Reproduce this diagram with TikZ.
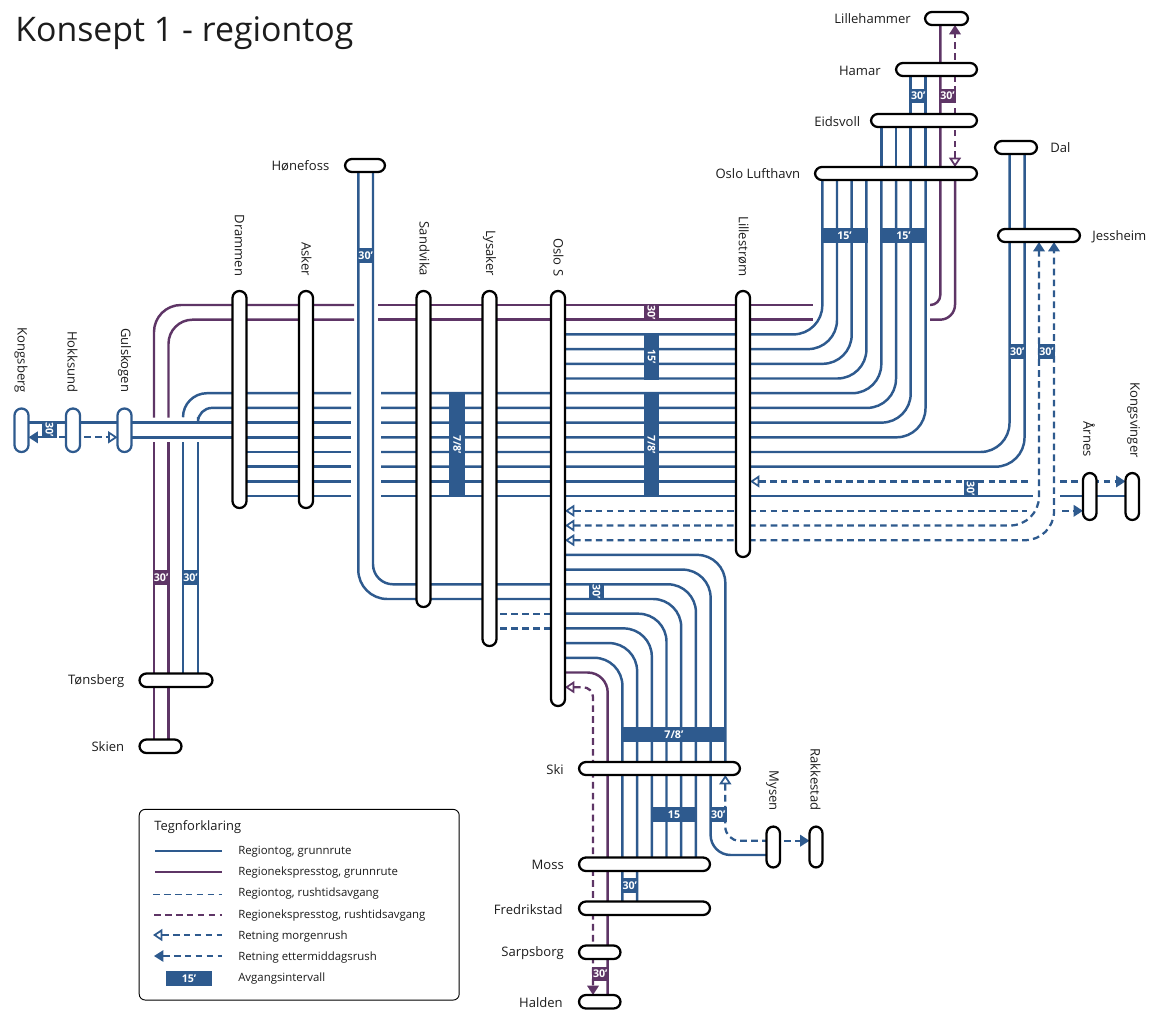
\documentclass[tikz,border=0pt]{standalone}
\usepackage{fontspec}
\setmainfont{Open Sans}
\usetikzlibrary{arrows.meta}
\definecolor{rblue}{HTML}{2E5A8E}
\definecolor{rpurp}{HTML}{5E3566}
\definecolor{ink}{HTML}{1C1C1C}
\pgfdeclarelayer{lines}
\pgfsetlayers{lines,main}
\tikzset{
  reg/.style={draw=rblue,line width=1.85pt},
  exp/.style={draw=rpurp,line width=1.85pt},
  regd/.style={draw=rblue,line width=1.7pt,dash pattern=on 5pt off 3.2pt},
  expd/.style={draw=rpurp,line width=1.7pt,dash pattern=on 5pt off 3.2pt},
  stnbox/.style={draw=black,fill=white,line width=1.7pt,rounded corners=5.2pt,inner sep=0pt,outer sep=0pt},
  lab/.style={text=ink,font=\fontsize{9.8}{11}\selectfont,inner sep=0pt},
  leg/.style={text=ink,font=\fontsize{8.55}{10}\selectfont,inner sep=0pt,anchor=west},
  boxtxt/.style={text=white,font=\bfseries\fontsize{8}{9}\selectfont,inner sep=0pt},
  R/.style={rounded corners=#1*0.75pt},
  opn/.tip={Triangle[open,fill=white,length=7pt,width=9pt,line width=1.3pt]},
  fil/.tip={Triangle[length=7pt,width=8.5pt]},
}
\newcommand\stn[6][black]{\node[stnbox,draw=#1,minimum width={(#5-#3-2)*0.75pt},minimum height={(#6-#4-2)*0.75pt}] (#2) at ({(#3+#5)/2},{(#4+#6)/2}) {};}
\newcommand\ibox[8]{\fill[#6] (#2,#3) rectangle (#4,#5); \node[boxtxt,rotate=#7] (#1) at ({(#2+#4)/2},{(#3+#5)/2}) {#8};}
\begin{document}
\begin{tikzpicture}[x=0.75pt,y=-0.75pt]
\useasboundingbox (0,0) rectangle (1151,1010);
% stations
\stn{lille}{924}{11}{969}{26}
\stn{hamar}{895}{62}{978}{77}
\stn{eids}{870}{113}{978}{128}
\stn{osl}{814}{166}{978}{181}
\stn{dal}{994}{140}{1038}{155}
\stn{jess}{997}{228}{1081}{243}
\stn{honef}{344}{158}{386}{173}
\stn{dram}{231.5}{290}{247.5}{509}
\stn{asker}{298}{290}{314}{509}
\stn{sand}{415.5}{290}{431.5}{608}
\stn{lys}{481.5}{290}{497.5}{647}
\stn{oslos}{550}{290}{566}{707}
\stn{lstrom}{735}{290}{751}{558}
\stn[rblue]{kongsb}{13.5}{407.5}{29.5}{453}
\stn[rblue]{hokk}{65}{407.5}{81}{453}
\stn[rblue]{guls}{116.5}{407.5}{132.5}{453}
\stn{aarnes}{1082}{472}{1097.5}{521}
\stn{kongsv}{1124.5}{472}{1140}{521}
\stn{tons}{138.5}{672.5}{213.5}{688}
\stn{skien}{138.5}{738.5}{182.5}{754}
\stn{ski}{578}{761}{741}{776}
\stn{moss}{578}{856.5}{711}{872}
\stn{fred}{578}{900.5}{711}{916}
\stn{sarp}{578}{944.5}{621.5}{960}
\stn{halden}{578}{994}{621.5}{1009.5}
\stn{mysen}{765.5}{825.5}{781}{868.5}
\stn{rakk}{808.5}{825.5}{823.5}{868.5}
% legend frame
\node[draw=black,line width=0.7pt,fill=white,rounded corners=4.5pt,minimum width=240pt,minimum height=143pt,inner sep=0pt] (legframe) at (299.2,904.7) {};
\begin{pgfonlayer}{lines}
% Purple left / top
\draw[exp,R=27] (154,417.7) -- (154,305) -- (354,305);
\draw[exp,R=24] (168.5,417.7) -- (168.5,319.7) -- (354,319.7);
\draw[exp] (154,442.3) -- (154,0 |- skien);
\draw[exp] (168.5,442.3) -- (168.5,0 |- skien);
\draw[exp] (378,305) -- (813,305);
\draw[exp] (378,319.7) -- (813,319.7);
\draw[exp,R=10] (930,305) -- (940.3,305) -- (940.3,0 |- lille);
\draw[exp,R=15] (930,319.7) -- (955,319.7) -- (955,0 |- osl);
\draw[expd,opn-fil] (955,0 |- osl.north) -- (955,0 |- lille.south);
% blue lines left
\draw[reg,R=24] (183,417) -- (183,393.2) -- (351,393.2);
\draw[reg,R=14] (198,417) -- (198,407.9) -- (351,407.9);
\draw[reg] (183,442.3) -- (183,0 |- tons);
\draw[reg] (198,442.3) -- (198,0 |- tons);
\draw[reg] (kongsb |- 0,422.6) -- (351,422.6);
\draw[reg] (guls |- 0,437.3) -- (351,437.3);
\foreach \y in {452,466.7,481.4,496.1} \draw[reg] (dram |- 0,\y) -- (351,\y);
\draw[regd,fil-] (kongsb.east |- 0,437.3) -- (hokk |- 0,437.3);
\draw[regd,-opn] (hokk |- 0,437.3) -- (guls.west |- 0,437.3);
% to airport
\foreach \y/\x in {393.2/881.3,407.9/896,422.6/910.7,437.3/925.5}
  \draw[reg,R=29] (381,\y) -- (\x,\y) -- (\x,0 |- osl);
\foreach \y/\x in {334.4/822.3,349.1/837,363.8/851.7,378.5/866.4}
  \draw[reg,R=29] (oslos |- 0,\y) -- (\x,\y) -- (\x,0 |- osl);
\foreach \x in {881.3,896,910.7,925.5} \draw[reg] (\x,0 |- osl) -- (\x,0 |- eids);
\foreach \x in {910.7,925.5} \draw[reg] (\x,0 |- eids) -- (\x,0 |- hamar);
% Dal
\foreach \y/\x in {452/1009.5,466.7/1024.5}
  \draw[reg,R=29] (381,\y) -- (\x,\y) -- (\x,0 |- dal);
\draw[reg] (381,481.4) -- (lstrom |- 0,481.4);
\draw[reg] (381,496.1) -- (1033,496.1);
\draw[reg] (1060,496.1) -- (kongsv |- 0,496.1);
% rush dashes east
\draw[regd,opn-] (lstrom.east |- 0,481.4) -- (1030,481.4);
\draw[regd,-fil] (1060,481.4) -- (kongsv.west |- 0,481.4);
\draw[regd,opn-] (oslos.east |- 0,510.8) -- (1027,510.8);
\draw[regd,-fil] (1062,510.8) -- (aarnes.west |- 0,510.8);
\draw[regd,R=29,opn-fil] (oslos.east |- 0,525.5) -- (1039,525.5) -- (1039,0 |- jess.south);
\draw[regd,R=29,opn-fil] (oslos.east |- 0,540.2) -- (1054,540.2) -- (1054,0 |- jess.south);
% west-east via Hønefoss
\draw[reg,R=29] (358.3,0 |- honef) -- (358.3,599) -- (oslos |- 0,599);
\draw[reg,R=20] (373,0 |- honef) -- (373,584.3) -- (oslos |- 0,584.3);
\draw[regd] (lys |- 0,613.7) -- (oslos |- 0,613.7);
\draw[regd] (lys |- 0,628.4) -- (oslos |- 0,628.4);
% south
\draw[reg,R=28] (oslos |- 0,554.9) -- (725.3,554.9) -- (725.3,0 |- ski);
\draw[reg,R=28] (oslos |- 0,569.6) -- (710.6,569.6) -- (710.6,0 |- ski);
\draw[reg,R=28] (oslos |- 0,584.3) -- (695.9,584.3) -- (695.9,0 |- moss);
\draw[reg,R=28] (oslos |- 0,599) -- (681.2,599) -- (681.2,0 |- moss);
\draw[reg,R=28] (oslos |- 0,613.7) -- (666.5,613.7) -- (666.5,0 |- moss);
\draw[reg,R=28] (oslos |- 0,628.4) -- (651.8,628.4) -- (651.8,0 |- moss);
\draw[reg,R=28] (oslos |- 0,643.1) -- (637.1,643.1) -- (637.1,0 |- fred);
\draw[reg,R=28] (oslos |- 0,657.8) -- (622.4,657.8) -- (622.4,0 |- fred);
\draw[exp,R=20] (oslos |- 0,672.5) -- (607.7,672.5) -- (607.7,0 |- halden);
\draw[expd,R=10,opn-fil] (oslos.east |- 0,687.2) -- (593,687.2) -- (593,0 |- halden.north);
% Ski branch
\draw[reg,R=20] (710.6,0 |- ski) -- (710.6,855) -- (mysen |- 0,855);
\draw[regd,R=14,opn-] (725.3,0 |- ski.south) -- (725.3,840.7) -- (mysen |- 0,840.7);
\draw[regd,-fil] (mysen |- 0,840.7) -- (rakk.west |- 0,840.7);
\end{pgfonlayer}
% interval boxes
\ibox{b1}{910}{89}{926.5}{103}{rblue}{0}{30'}
\ibox{b2}{939.5}{89}{955.5}{103}{rpurp}{0}{30'}
\ibox{b3}{821.5}{228}{867.5}{242.7}{rblue}{0}{15'}
\ibox{b4}{880.5}{228}{926.5}{242.7}{rblue}{0}{15'}
\ibox{b5}{1009}{344}{1025.5}{359}{rblue}{0}{30'}
\ibox{b6}{1038}{344}{1055}{359}{rblue}{0}{30'}
\ibox{b7}{357.5}{248}{373.8}{263}{rblue}{0}{30'}
\ibox{b8}{644}{304}{659}{320.5}{rpurp}{-90}{30'}
\ibox{b9}{644}{333.5}{659}{379.5}{rblue}{-90}{15'}
\ibox{b10}{644}{392.5}{659}{497}{rblue}{-90}{7/8'}
\ibox{b11}{449.3}{392.5}{465}{497}{rblue}{-90}{7/8'}
\ibox{b12}{963.5}{480}{978}{497}{rblue}{-90}{30'}
\ibox{b13}{42}{421.7}{57}{438.2}{rblue}{-90}{30'}
\ibox{b14}{153}{570}{169.3}{584.5}{rpurp}{0}{30'}
\ibox{b15}{182.3}{570}{198.8}{584.5}{rblue}{0}{30'}
\ibox{b16}{589}{583.5}{604}{600}{rblue}{-90}{30'}
\ibox{b17}{621.5}{727}{726.2}{741.7}{rblue}{0}{7/8'}
\ibox{b18}{651}{807.3}{697}{821.7}{rblue}{0}{15}
\ibox{b19}{709.8}{807.3}{726.7}{821.7}{rblue}{0}{30'}
\ibox{b20}{621.5}{878}{638}{892.7}{rblue}{0}{30'}
\ibox{b21}{592}{966.7}{608.5}{980.7}{rpurp}{0}{30'}
% title
\node[anchor=west,text=ink,inner sep=0pt,font=\fontsize{25.4}{29}\selectfont] (title) at (15,33) {Konsept 1 - regiontog};
% horizontal labels
\node[lab,anchor=east] (tlille) at (911,19) {Lillehammer};
\node[lab,anchor=east] (thamar) at (881,70.5) {Hamar};
\node[lab,anchor=east] (teids) at (860.5,122) {Eidsvoll};
\node[lab,anchor=east] (tosl) at (800.5,173.5) {Oslo Lufthavn};
\node[lab,anchor=west] (tdal) at (1050,148) {Dal};
\node[lab,anchor=west] (tjess) at (1092,236.5) {Jessheim};
\node[lab,anchor=east] (thon) at (329.5,166) {Hønefoss};
\node[lab,anchor=east] (ttons) at (124.5,681) {Tønsberg};
\node[lab,anchor=east] (tskien) at (124.5,747) {Skien};
\node[lab,anchor=east] (tski) at (564,769.5) {Ski};
\node[lab,anchor=east] (tmoss) at (564,865) {Moss};
\node[lab,anchor=east] (tfred) at (563,909.5) {Fredrikstad};
\node[lab,anchor=east] (tsarp) at (564,953) {Sarpsborg};
\node[lab,anchor=east] (thald) at (563,1003) {Halden};
% rotated labels
\foreach \n/\x/\y/\t in {a/239.5/276.5/Drammen,b/306.5/276.5/Asker,c/424.5/276.5/Sandvika,d/489.5/276.5/Lysaker,e/558.5/276.5/Oslo S,f/743.5/276.5/Lillestrøm,g/21/393/Kongsberg,h/72.5/393/Hokksund,i/124.5/392.5/Gulskogen,j/1089/457/Årnes,k/1133.5/458/Kongsvinger,l/772.5/811/Mysen,m/815.5/811/Rakkestad}
  \node[lab,anchor=east,rotate=-90] (r\n) at (\x,\y) {\t};
% legend
\node[text=ink,font=\fontsize{9.7}{11}\selectfont,inner sep=0pt,anchor=west] (legt) at (154,827) {Tegnforklaring};
\foreach \n/\y/\t in {1/852/{Regiontog, grunnrute},2/873/{Regionekspresstog, grunnrute},3/894/{Regiontog, rushtidsavgang},4/916/{Regionekspresstog, rushtidsavgang},5/937/Retning morgenrush,6/958/Retning ettermiddagsrush,7/979/Avgangsintervall}
  \node[leg] (lg\n) at (238,\y) {\t};
\coordinate (la) at (155,851); \coordinate (lb) at (222,851);
\draw[reg] (la) -- (lb);
\draw[exp] (155,872) -- (222,872);
\draw[regd,line width=1.3pt] (153,894.6) -- (222,894.6);
\draw[expd,line width=1.3pt] (154,915) -- (222,915);
\draw[regd,line width=1.3pt,opn-] (153,935) -- (222,935);
\draw[regd,line width=1.3pt,fil-] (154,956) -- (222,956);
\ibox{lg8}{166}{971}{212}{986}{rblue}{0}{15'}
\end{tikzpicture}
\end{document}
